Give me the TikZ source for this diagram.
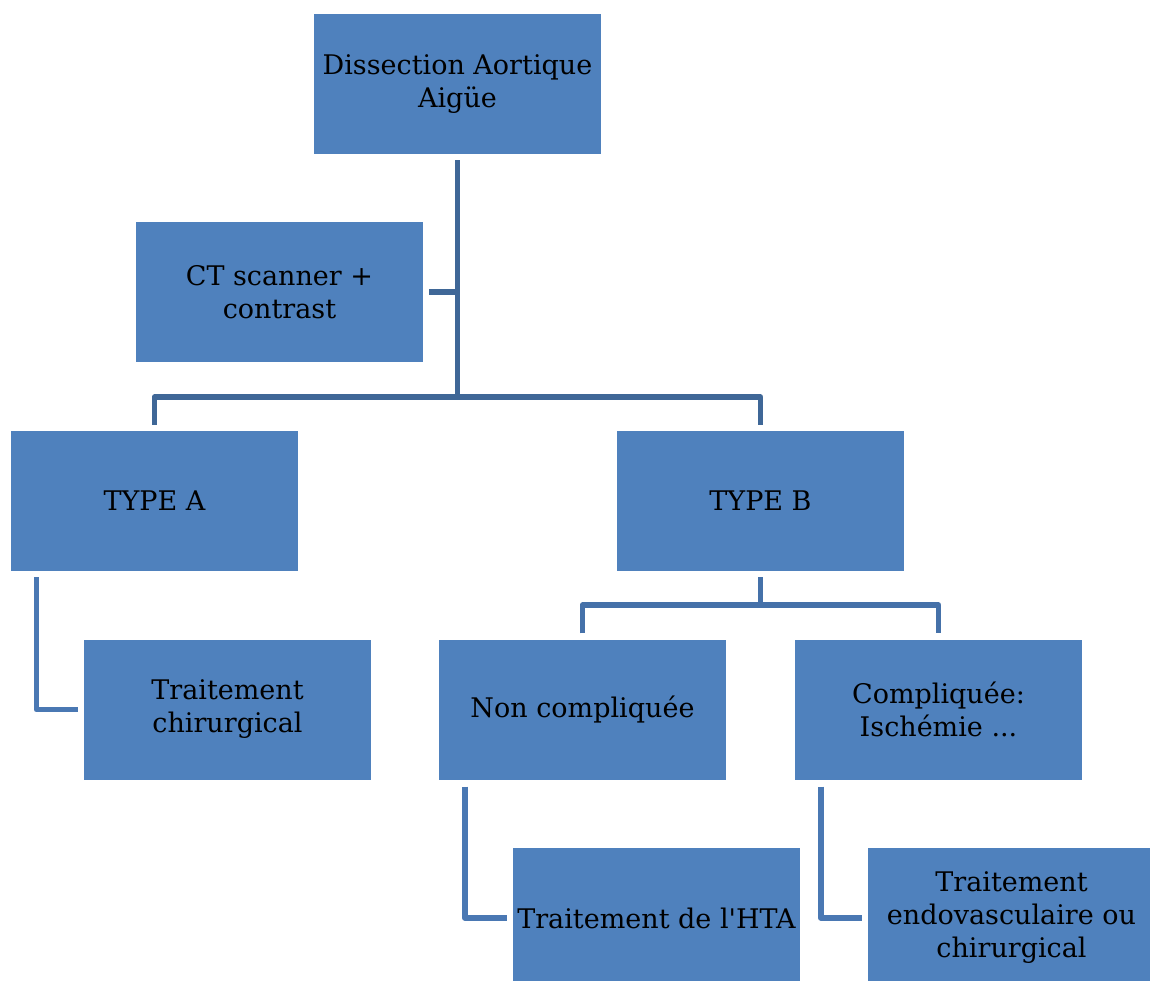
\documentclass[tikz,border=0pt]{standalone}
\usepackage{fontspec}
\setmainfont{DejaVu Serif}
\newfontfamily\boxfont{DejaVu Serif}
\definecolor{boxfill}{HTML}{4F81BD}
\definecolor{lineA}{HTML}{3F6797}
\definecolor{lineB}{HTML}{4571A9}
\definecolor{lineC}{HTML}{4A78B3}
\begin{document}
\begin{tikzpicture}[x=1pt,y=-1pt,
  box/.style={rectangle,fill=boxfill,draw=none,minimum width=287pt,minimum height=140pt,
    inner sep=0pt,align=center,font=\boxfont\fontsize{27}{33}\selectfont,text=black},
  connA/.style={draw=lineA,line width=5.5pt,line join=round},
  connB/.style={draw=lineB,line width=5.5pt,line join=round},
  connC/.style={draw=lineC,line width=5.5pt,line join=round}]
\useasboundingbox (0,0) rectangle (1150,981);
\clip (0,0) rectangle (1150,981);
\fill[white] (0,0) rectangle (1150,981);

\node[box] (top) at (457.5,84) {Dissection Aortique\\Aigüe};
\node[box] (ct) at (279.5,292) {CT scanner +\\contrast};
\node[box] (typeA) at (154.5,501) {TYPE A};
\node[box] (typeB) at (760.5,501) {TYPE B};
\node[box] (chirA) at (227.5,709.5) {Traitement\\chirurgical};
\node[box] (noncomp) at (582.5,709.5) {Non compliquée};
\node[box] (comp) at (938.5,709.5) {Compliquée:\\Ischémie ...};
\node[box] (hta) at (656.5,918) {Traitement de l'HTA};
\node[box] (endo) at (1011.5,918) {Traitement\\endovasculaire ou\\chirurgical};

\coordinate (split1) at (457.5,397);
\coordinate (split2) at (760.5,605);

\draw[connA] ([yshift=-6pt]top.south) -- (split1);
\draw[connA] ([xshift=6pt]ct.east) -- (ct.east -| top.south);
\draw[connA] ([yshift=6pt]typeA.north) |- (split1) -| ([yshift=6pt]typeB.north);

\draw[connB] ([yshift=-6pt]typeB.south) -- (split2);
\draw[connB] ([yshift=6pt]noncomp.north) |- (split2) -| ([yshift=6pt]comp.north);

\draw[connC] ([xshift=25.5pt,yshift=-6pt]typeA.south west) |- ([xshift=-6pt]chirA.west);
\draw[connC] ([xshift=26pt,yshift=-7pt]noncomp.south west) |- ([xshift=-6pt]hta.west);
\draw[connC] ([xshift=26pt,yshift=-7pt]comp.south west) |- ([xshift=-6pt]endo.west);
\end{tikzpicture}
\end{document}
